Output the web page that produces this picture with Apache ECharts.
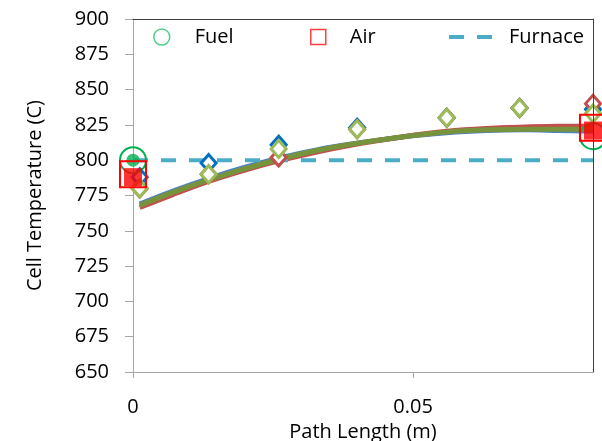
<!DOCTYPE html>
<html>
<head>
<meta charset="utf-8">
<script src="https://cdn.jsdelivr.net/npm/echarts@6/dist/echarts.min.js"></script>
<style>
  html, body { margin: 0; padding: 0; background: #fff; }
  #chart { width: 602px; height: 441px; }
</style>
</head>
<body>
<div id="chart"></div>
<script>
// Axis ticks
const xTicks = [0, 0.05];
const yTicks = [650, 675, 700, 725, 750, 775, 800, 825, 850, 875, 900];

// Model temperature profiles along the path (C)
const modelX     = [0.0012, 0.007, 0.0135, 0.02, 0.026, 0.033, 0.040, 0.048, 0.056, 0.063, 0.070, 0.076, 0.0821];
const modelBlue  = [769, 778, 787, 795, 801.5, 807.5, 812, 816.5, 819.5, 821, 821.5, 821, 820.5];
const modelRed   = [766.5, 775.5, 785, 793, 799.5, 806, 811.5, 816.5, 820.5, 822.5, 823.5, 824, 824];
const modelGreen = [768, 777, 786, 794, 800.5, 807, 812, 816.5, 820, 821.5, 822, 822, 822];

// Measured cell temperatures (diamonds)
const probeX     = [0.0012, 0.0135, 0.026, 0.040, 0.056, 0.069, 0.0821];
const probeBlue  = [788, 798, 811, 823, 830, 837, 836];
const probeRed   = [780, 790, 802, 822, 830, 837, 840];
const probeGreen = [780, 790, 808, 822, 830, 837, 833];

// Gas stream temperatures at inlet / outlet
const fuelX = [0, 0.0821];
const fuelOpen = [800, 817];
const fuelInX = [0];
const fuelIn = [800];
const airX = [0, 0.0821];
const airOpen = [790, 823];
const airFilled = [788, 821];

// Furnace set point
const furnaceX = [0, 0.0821];
const furnace = [800, 800];

const pairs = (xs, ys) => xs.map((x, i) => [x, ys[i]]);

const FONT = 'Open Sans';
const FS = 20;
const FURNACE_DASH = [15, 13];

function lineSeries(name, data, color) {
  return {
    name, type: 'line', data, smooth: 0.35, symbol: 'none', clip: false,
    itemStyle: { color }, lineStyle: { color, width: 5 }, z: 3
  };
}
function diamondSeries(name, data, color) {
  return {
    name, type: 'scatter', data, symbol: 'diamond', symbolSize: [15, 17], clip: false,
    itemStyle: { color: '#fff', borderColor: color, borderWidth: 3, opacity: 1 },
    z: 4
  };
}

const chart = echarts.init(document.getElementById('chart'), null, { renderer: 'canvas' });

const textBase = { fontFamily: FONT, fontSize: FS, color: '#000' };
const legendBase = {
  orient: 'horizontal', top: 27, padding: 0, itemHeight: 16, itemWidth: 16,
  selectedMode: false
};

chart.setOption({
  backgroundColor: '#fff',
  animation: false,
  grid: { left: 133, right: 9, top: 19, bottom: 69, containLabel: false, outerBoundsMode: 'none' },
  legend: [
    Object.assign({}, legendBase, {
      left: 153,
      data: [{ name: 'Fuel', icon: 'circle',
        itemStyle: { color: 'rgba(255,255,255,0)', borderColor: '#4fd08a', borderWidth: 1.5 } }],
      textStyle: Object.assign({}, textBase, { padding: [0, 0, 0, 20] })
    }),
    Object.assign({}, legendBase, {
      left: 310, itemWidth: 15, itemHeight: 15,
      data: [{ name: 'Air', icon: 'rect',
        itemStyle: { color: 'rgba(255,255,255,0)', borderColor: '#ff4040', borderWidth: 1.5 } }],
      textStyle: Object.assign({}, textBase, { padding: [0, 0, 0, 19] })
    }),
    Object.assign({}, legendBase, {
      left: 447, itemWidth: 43,
      data: [{ name: 'Furnace',
        itemStyle: { opacity: 0 },
        lineStyle: { color: '#4bacc6', width: 4, type: FURNACE_DASH, opacity: 1 } }],
      textStyle: Object.assign({}, textBase, { padding: [0, 0, 0, 12] })
    })
  ],
  xAxis: [{
    type: 'value', min: 0, max: 0.0821,
    name: 'Path Length (m)', nameLocation: 'middle', nameGap: 49,
    nameTextStyle: textBase,
    axisLine: { show: true, lineStyle: { color: '#a6a6a6', width: 1 } },
    axisTick: { show: true, length: 6, customValues: xTicks, lineStyle: { color: '#a6a6a6' } },
    axisLabel: Object.assign({ customValues: xTicks, margin: 25, formatter: v => String(v) }, textBase),
    splitLine: { show: false }
  }, {
    type: 'value', position: 'top', min: 0, max: 0.0821, z: 20,
    axisLine: { show: true, onZero: false, lineStyle: { color: '#404040', width: 1 } },
    axisTick: { show: false }, axisLabel: { show: false }, splitLine: { show: false }
  }],
  yAxis: [{
    type: 'value', min: 650, max: 900, interval: 25,
    name: 'Cell Temperature (C)', nameLocation: 'middle', nameGap: 88,
    nameTextStyle: textBase,
    axisLine: { show: true, lineStyle: { color: '#a6a6a6', width: 1 } },
    axisTick: { show: true, length: 8, lineStyle: { color: '#a6a6a6' } },
    axisLabel: Object.assign({ margin: 24 }, textBase),
    splitLine: { show: false }
  }, {
    type: 'value', position: 'right', min: 650, max: 900, z: 20,
    axisLine: { show: true, onZero: false, lineStyle: { color: '#404040', width: 1 } },
    axisTick: { show: false }, axisLabel: { show: false }, splitLine: { show: false }
  }],
  series: [
    lineSeries('Model 1', pairs(modelX, modelBlue), '#4f81bd'),
    lineSeries('Model 2', pairs(modelX, modelRed), '#c0504d'),
    lineSeries('Model 3', pairs(modelX, modelGreen), '#77933c'),
    {
      name: 'Furnace', type: 'line', data: pairs(furnaceX, furnace), symbol: 'none', clip: false,
      itemStyle: { color: '#4bacc6' },
      lineStyle: { color: '#4bacc6', width: 4, type: FURNACE_DASH }, z: 3
    },
    diamondSeries('Cell 1', pairs(probeX, probeBlue), '#0070c0'),
    diamondSeries('Cell 2', pairs(probeX, probeRed), '#c0504d'),
    diamondSeries('Cell 3', pairs(probeX, probeGreen), '#9bbb59'),
    {
      name: 'Fuel', type: 'scatter', data: pairs(fuelX, fuelOpen), symbol: 'circle', symbolSize: 26, clip: false,
      itemStyle: { color: 'rgba(255,255,255,0)', borderColor: '#00b050', borderWidth: 2, opacity: 1 }, z: 5
    },
    {
      name: 'Fuel inlet', type: 'scatter', data: pairs(fuelInX, fuelIn), symbol: 'circle', symbolSize: 13, clip: false,
      itemStyle: { color: '#00b050' }, z: 6
    },
    {
      name: 'Air', type: 'scatter', data: pairs(airX, airOpen), symbol: 'rect', symbolSize: 26, clip: false,
      itemStyle: { color: 'rgba(255,255,255,0)', borderColor: '#ff0000', borderWidth: 2, opacity: 1 }, z: 7
    },
    {
      name: 'Air measured', type: 'scatter', data: pairs(airX, airFilled), symbol: 'rect', symbolSize: 18, clip: false,
      itemStyle: { color: '#ff0000' }, z: 8
    }
  ]
});
</script>
</body>
</html>
